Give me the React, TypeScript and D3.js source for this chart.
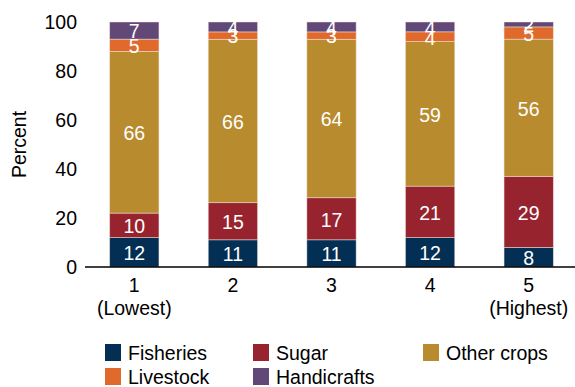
import React from "react";
import * as d3 from "d3";

const categories = ["1", "2", "3", "4", "5"];
const categorySubLabels = ["(Lowest)", "", "", "", "(Highest)"];
const seriesNames = ["Fisheries", "Sugar", "Other crops", "Livestock", "Handicrafts"];
const fisheries = [12, 11, 11, 12, 8];
const sugar = [10, 15, 17, 21, 29];
const otherCrops = [66, 66, 64, 59, 56];
const livestock = [5, 3, 3, 4, 5];
const handicrafts = [7, 4, 4, 4, 2];
const yTicks = [0, 20, 40, 60, 80, 100];
const colors = ["#032f55", "#97232e", "#b78b2e", "#e06a2c", "#624877"];

const W = 575;
const H = 387;
const FONT = "'Liberation Sans', Arial, Helvetica, sans-serif";
const FS = 19.5;

export default function App() {
  const seriesValues = [fisheries, sugar, otherCrops, livestock, handicrafts];
  const rows = categories.map((c, i) => {
    const r: any = { cat: c };
    seriesNames.forEach((s, k) => (r[s] = seriesValues[k][i]));
    return r;
  });
  const stack = d3.stack<any>().keys(seriesNames).offset(d3.stackOffsetExpand);
  const stacked = stack(rows);

  const x = d3.scaleBand<string>().domain(categories).range([85, 578]).paddingInner(0.5).paddingOuter(0.25);
  const y = d3.scaleLinear().domain([0, 1]).range([267, 22]);
  const yT = d3.scaleLinear().domain([0, 100]).range([267, 22]);

  const legendPos = [
    { x: 105, y: 344 },
    { x: 253, y: 344 },
    { x: 423, y: 344 },
    { x: 105, y: 368 },
    { x: 253, y: 368 },
  ];

  return (
    <svg width={W} height={H} style={{ position: "absolute", left: 0, top: 0, fontFamily: FONT }}>
      <rect x={0} y={0} width={W} height={H} fill="#fff" />
      {yTicks.map((t) => (
        <text key={t} x={77} y={yT(t)} dy="0.36em" textAnchor="end" fontSize={FS} fill="#000">
          {t}
        </text>
      ))}
      <text transform={`translate(26,${(22 + 267) / 2}) rotate(-90)`} textAnchor="middle" fontSize={FS} fill="#000">
        Percent
      </text>
      {stacked.map((layer, k) => (
        <g key={layer.key}>
          {layer.map((d, i) => (
            <rect
              key={i}
              x={x(categories[i])!}
              width={x.bandwidth()}
              y={y(d[1])}
              height={y(d[0]) - y(d[1])}
              fill={colors[k]}
              stroke="#f3e6e0"
              strokeOpacity={0.6}
              strokeWidth={0.8}
            />
          ))}
        </g>
      ))}
      {stacked.map((layer, k) => (
        <g key={"l" + layer.key}>
          {layer.map((d, i) => (
            <text
              key={i}
              x={x(categories[i])! + x.bandwidth() / 2}
              y={(y(d[0]) + y(d[1])) / 2}
              dy="0.4em"
              textAnchor="middle"
              fontSize={FS}
              fill="#fff"
            >
              {seriesValues[k][i]}
            </text>
          ))}
        </g>
      ))}
      <line x1={85} x2={575} y1={267} y2={267} stroke="#000" strokeWidth={1.5} />
      {categories.map((c, i) => (
        <g key={c}>
          <text x={x(c)! + x.bandwidth() / 2} y={292} textAnchor="middle" fontSize={FS} fill="#000">
            {c}
          </text>
          {categorySubLabels[i] && (
            <text x={x(c)! + x.bandwidth() / 2} y={315} textAnchor="middle" fontSize={FS} fill="#000">
              {categorySubLabels[i]}
            </text>
          )}
        </g>
      ))}
      {seriesNames.map((s, k) => (
        <g key={s}>
          <rect x={legendPos[k].x} y={legendPos[k].y} width={16} height={17} fill={colors[k]} />
          <text x={legendPos[k].x + 23} y={legendPos[k].y + 15.5} fontSize={FS} fill="#000">
            {s}
          </text>
        </g>
      ))}
    </svg>
  );
}
